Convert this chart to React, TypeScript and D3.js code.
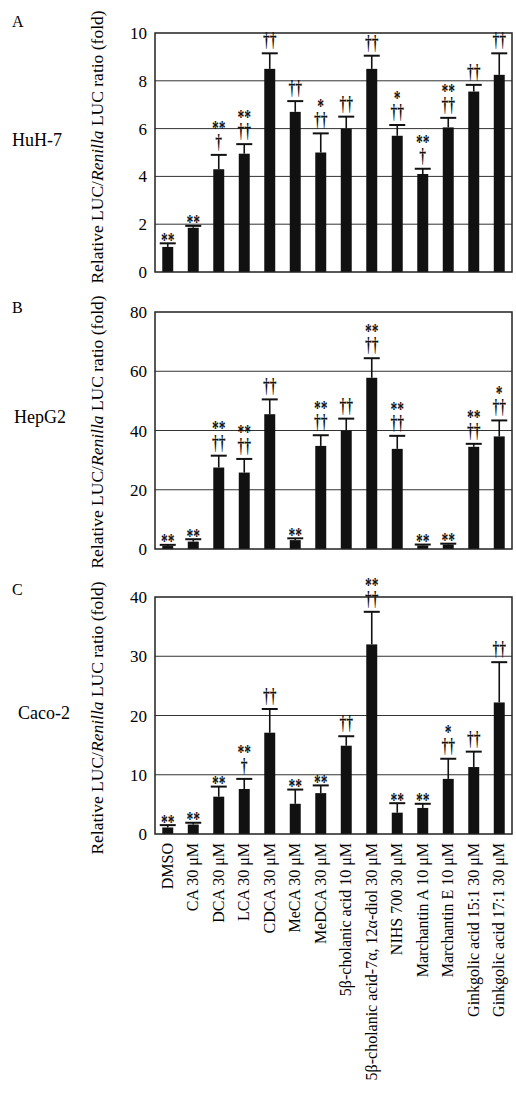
import { useEffect } from 'react'
import * as d3 from 'd3'

const categories = [
  'DMSO',
  'CA 30 μM',
  'DCA 30 μM',
  'LCA 30 μM',
  'CDCA 30 μM',
  'MeCA 30 μM',
  'MeDCA 30 μM',
  '5β-cholanic acid 10 μM',
  '5β-cholanic acid-7α, 12α-diol 30 μM',
  'NIHS 700 30 μM',
  'Marchantin A 10 μM',
  'Marchantin E 10 μM',
  'Ginkgolic acid 15:1 30 μM',
  'Ginkgolic acid 17:1 30 μM'
]

// HuH-7
const huh7Values = [1.05, 1.85, 4.3, 4.95, 8.5, 6.7, 5.0, 6.0, 8.5, 5.7, 4.1, 6.05, 7.55, 8.25]
const huh7Errors = [0.15, 0.08, 0.6, 0.4, 0.65, 0.45, 0.8, 0.5, 0.55, 0.45, 0.22, 0.4, 0.28, 0.9]
const huh7Marks = [['**'], ['**'], ['**', '†'], ['**', '††'], ['††'], ['††'], ['*', '††'], ['††'], ['††'], ['*', '††'], ['**', '†'], ['**', '††'], ['††'], ['††']]
const huh7Ticks = [0, 2, 4, 6, 8, 10]

// HepG2
const hepg2Values = [1.0, 2.5, 27.5, 25.8, 45.5, 3.0, 34.8, 40.0, 57.8, 33.8, 1.2, 1.5, 34.5, 38.0]
const hepg2Errors = [0.4, 0.8, 4.0, 4.6, 5.0, 0.6, 3.6, 4.0, 6.6, 4.4, 0.3, 0.3, 1.0, 5.4]
const hepg2Marks = [['**'], ['**'], ['**', '††'], ['**', '††'], ['††'], ['**'], ['**', '††'], ['††'], ['**', '††'], ['**', '††'], ['**'], ['**'], ['**', '††'], ['*', '††']]
const hepg2Ticks = [0, 20, 40, 60, 80]

// Caco-2
const caco2Values = [1.1, 1.6, 6.3, 7.6, 17.1, 5.1, 6.9, 14.9, 32.0, 3.6, 4.4, 9.3, 11.3, 22.2]
const caco2Errors = [0.4, 0.3, 1.7, 1.7, 4.0, 2.4, 1.3, 1.6, 5.5, 1.6, 0.7, 3.4, 2.6, 6.8]
const caco2Marks = [['**'], ['**'], ['**'], ['**', '†'], ['††'], ['**'], ['**'], ['††'], ['**', '††'], ['**'], ['**'], ['*', '††'], ['††'], ['††']]
const caco2Ticks = [0, 10, 20, 30, 40]

const panelLetters = ['A', 'B', 'C']
const cellLines = ['HuH-7', 'HepG2', 'Caco-2']

const W = 516
const H = 1096
const LEFT = 155
const RIGHT = 512
const FONT = '"Liberation Serif", "Times New Roman", serif'
const MARK_SIZE = 16
const MARK_SX = 0.85
const MARK_SY = 1.25

const panels = [
  { letter: panelLetters[0], cell: cellLines[0], values: huh7Values, errors: huh7Errors, marks: huh7Marks, ticks: huh7Ticks, top: 33, bottom: 272, letterY: 27, cellY: 146, cellX: 12, titleY: 147 },
  { letter: panelLetters[1], cell: cellLines[1], values: hepg2Values, errors: hepg2Errors, marks: hepg2Marks, ticks: hepg2Ticks, top: 312, bottom: 549, letterY: 313, cellY: 423, cellX: 14, titleY: 432 },
  { letter: panelLetters[2], cell: cellLines[2], values: caco2Values, errors: caco2Errors, marks: caco2Marks, ticks: caco2Ticks, top: 597, bottom: 834, letterY: 595, cellY: 719, cellX: 18, titleY: 718 }
]

const x = d3.scaleBand<string>()
  .domain(categories)
  .range([LEFT, RIGHT])
  .paddingInner(0.57)
  .paddingOuter(0.285)

// stack significance symbols upward from the error-bar cap (offsets relative to cap, in px)
function stackMarks(marks: string[]) {
  let bottom = -3
  const out: { text: string, y: number }[] = []
  for (let k = marks.length - 1; k >= 0; k--) {
    const m = marks[k]
    if (m.startsWith('*')) {
      const base = bottom + 6.4
      out.push({ text: m, y: base })
      bottom = base - 13.6 - 6
    } else {
      const base = bottom - 3
      out.push({ text: m, y: base })
      bottom = base - 13.6 - 7
    }
  }
  return out
}

function Panel({ p }: { p: typeof panels[number] }) {
  const y = d3.scaleLinear()
    .domain([0, p.ticks[p.ticks.length - 1]])
    .range([p.bottom, p.top])
  const bw = x.bandwidth()

  return (
    <g>
      <text x={12} y={p.letterY} fontSize={16} fontFamily={FONT}>{p.letter}</text>
      <text x={p.cellX} y={p.cellY} fontSize={18} fontFamily={FONT}>{p.cell}</text>
      <text
        transform={`translate(103,${p.titleY}) rotate(-90)`}
        textAnchor="middle"
        fontSize={17.5}
        fontFamily={FONT}
      >
        Relative LUC/<tspan fontStyle="italic">Renilla</tspan> LUC ratio (fold)
      </text>

      {/* gridlines */}
      {p.ticks.slice(1, -1).map(t => (
        <line key={t} x1={LEFT} x2={RIGHT} y1={y(t)} y2={y(t)} stroke="#333" strokeWidth={1} />
      ))}

      {/* tick labels */}
      {p.ticks.map(t => (
        <text key={'l' + t} x={147} y={y(t) + 6} textAnchor="end" fontSize={17} fontFamily={FONT}>{t}</text>
      ))}

      {/* bars, error bars, marks */}
      {categories.map((c, i) => {
        const cx = (x(c) as number) + bw / 2
        const capY = y(p.values[i] + p.errors[i])
        return (
          <g key={c}>
            <line x1={cx} x2={cx} y1={y(p.values[i])} y2={capY} stroke="#111" strokeWidth={1.6} />
            <line x1={cx - 8} x2={cx + 8} y1={capY} y2={capY} stroke="#111" strokeWidth={2} />
            <rect x={x(c)} y={y(p.values[i])} width={bw} height={p.bottom - y(p.values[i])} fill="#111" />
            <text
              transform={`translate(${cx},${capY}) scale(${MARK_SX},${MARK_SY})`}
              textAnchor="middle"
              fontSize={MARK_SIZE}
              fontWeight="bold"
              fontFamily={FONT}
              fill="#111"
            >
              {stackMarks(p.marks[i]).map((m, k) => (
                <tspan key={k} x={0} y={m.y / MARK_SY}>{m.text}</tspan>
              ))}
            </text>
          </g>
        )
      })}

      {/* frame */}
      <rect x={LEFT} y={p.top} width={RIGHT - LEFT} height={p.bottom - p.top} fill="none" stroke="#222" strokeWidth={1.5} />
    </g>
  )
}

export default function App() {
  useEffect(() => {
    document.body.style.margin = '0'
  }, [])

  const last = panels[panels.length - 1]

  return (
    <svg width={W} height={H} style={{ display: 'block', background: '#fff' }}>
      <rect width={W} height={H} fill="#fff" />
      {panels.map(p => <Panel key={p.letter} p={p} />)}
      {categories.map(c => (
        <text
          key={c}
          transform={`translate(${(x(c) as number) + x.bandwidth() / 2 + 5},${last.bottom + 9}) rotate(-90)`}
          textAnchor="end"
          fontSize={16}
          fontFamily={FONT}
        >
          {c}
        </text>
      ))}
    </svg>
  )
}
